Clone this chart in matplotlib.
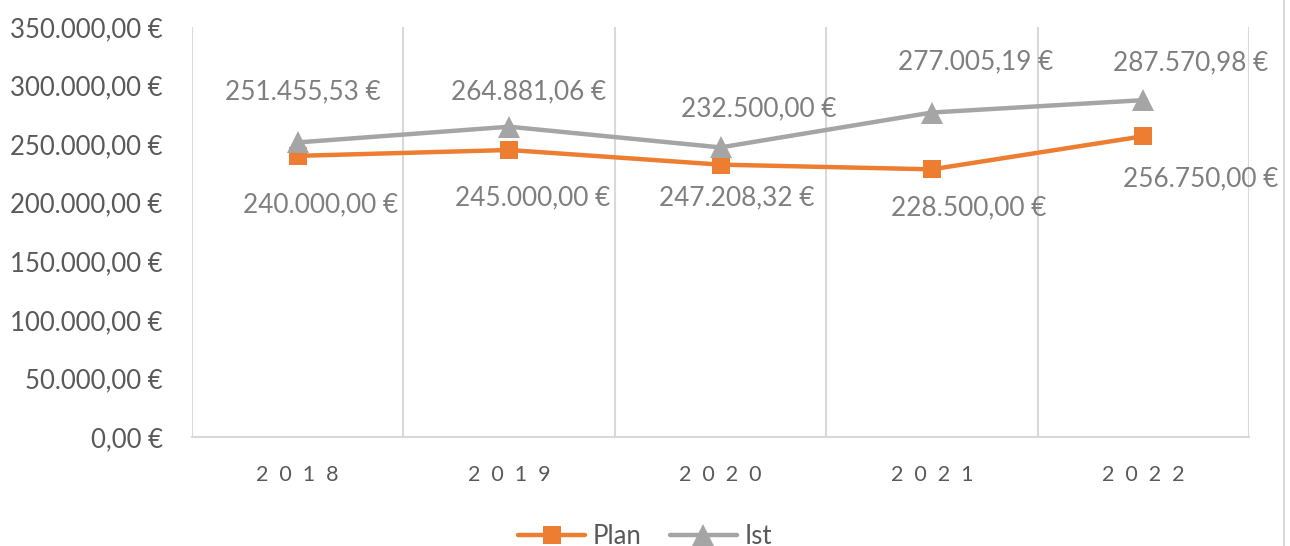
import matplotlib.pyplot as plt
from matplotlib.lines import Line2D
from matplotlib.ticker import FuncFormatter, MultipleLocator

plt.rcParams['font.family'] = ['Lato', 'DejaVu Sans']

years = ['2018', '2019', '2020', '2021', '2022']
plan = [240000.00, 245000.00, 232500.00, 228500.00, 256750.00]
ist = [251455.53, 264881.06, 247208.32, 277005.19, 287570.98]
# label texts as printed in the chart (2020 labels appear swapped there)
plan_labels = ['240.000,00 €', '245.000,00 €', '247.208,32 €', '228.500,00 €', '256.750,00 €']
ist_labels = ['251.455,53 €', '264.881,06 €', '232.500,00 €', '277.005,19 €', '287.570,98 €']

ORANGE = '#ED7D31'
GRAY = '#A5A5A5'
GRID = '#D9D9D9'
TICK = '#595959'
LABEL = '#7F7F7F'

# manual label offsets in pixels (dx, dy)
ist_off = [(5, 51), (19, 35), (38, 39), (44, 51), (47, 37)]
plan_off = [(23, -49), (24, -48), (16, -33), (37, -38), (57, -43)]


def euro(v, pos=None):
    s = f"{v:,.2f}".replace(',', 'X').replace('.', ',').replace('X', '.')
    return s + ' €'


def main():
    fig = plt.figure(figsize=(12.9, 5.46), dpi=100)
    ax = fig.add_axes([192 / 1290, 1 - 437 / 546, (1249 - 192) / 1290, (437 - 27) / 546])

    x = list(range(len(years)))
    ax.plot(x, plan, color=ORANGE, linewidth=3.2, marker='s', markersize=13,
            markeredgewidth=0, label='Plan', zorder=3, solid_capstyle='round')
    ax.plot(x, ist, color=GRAY, linewidth=3.2, marker='^', markersize=15.5,
            markeredgewidth=0, label='Ist', zorder=3, solid_capstyle='round')

    for i in x:
        ax.annotate(ist_labels[i], (i, ist[i]), xytext=ist_off[i], textcoords='offset pixels',
                    ha='center', va='center', fontsize=18.8, color=LABEL)
        ax.annotate(plan_labels[i], (i, plan[i]), xytext=plan_off[i], textcoords='offset pixels',
                    ha='center', va='center', fontsize=18.8, color=LABEL)

    ax.set_xlim(-0.5, len(years) - 0.5)
    ax.set_ylim(0, 350000)
    ax.yaxis.set_major_locator(MultipleLocator(50000))
    ax.yaxis.set_major_formatter(FuncFormatter(euro))
    ax.set_xticks(x)
    ax.set_xticklabels(['  '.join(y) for y in years])
    ax.set_xticks([i - 0.5 for i in range(len(years) + 1)], minor=True)
    ax.grid(True, which='minor', axis='x', color=GRID, linewidth=1.5)
    ax.tick_params(axis='y', length=0, pad=21, labelsize=18.5, labelcolor=TICK)
    ax.tick_params(axis='x', which='both', length=0, pad=20, labelsize=15.5, labelcolor=TICK)

    for side in ['top', 'right', 'left']:
        ax.spines[side].set_visible(False)
    ax.spines['bottom'].set_color(GRID)
    ax.spines['bottom'].set_linewidth(1.5)

    fig.legend(loc='center', bbox_to_anchor=(0.5, 1 - 536 / 546), ncol=2, frameon=False,
               fontsize=18.5, labelcolor=TICK, handlelength=2.6, columnspacing=1.1,
               handletextpad=0.3)

    fig.add_artist(Line2D([1284 / 1290, 1284 / 1290], [0, 1], color=GRID, linewidth=1.5))

    fig.savefig('out.png', dpi=100)


if __name__ == "__main__":
    main()
